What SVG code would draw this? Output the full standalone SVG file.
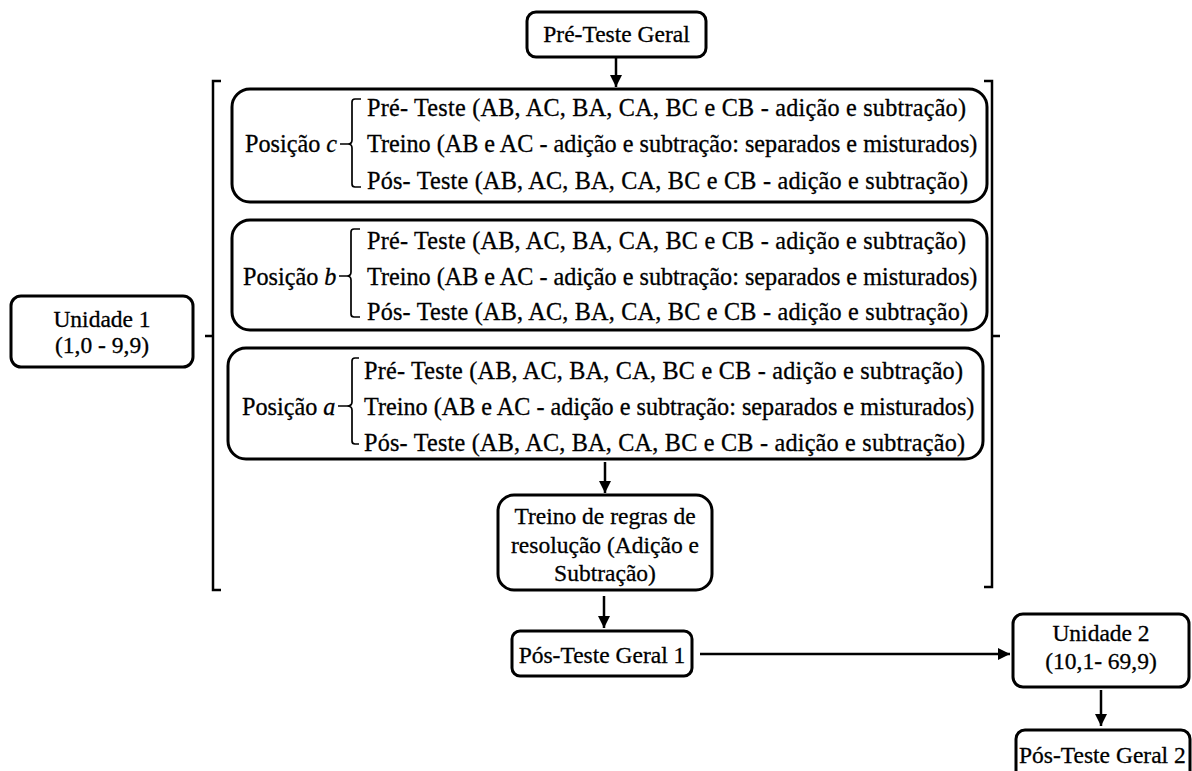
<svg xmlns="http://www.w3.org/2000/svg" width="1192" height="771" viewBox="0 0 1192 771">
<style>
.box{fill:#fff;stroke:#000;stroke-width:3}
.t{font-family:'Liberation Serif','Times New Roman',serif;font-size:23.5px;fill:#000;stroke:#000;stroke-width:0.3}
.s{font-size:24.2px}
.m{text-anchor:middle}
.brk{fill:none;stroke:#000;stroke-width:2.5}
.brace{fill:none;stroke:#000;stroke-width:1.7}
.conn{fill:none;stroke:#000;stroke-width:2.5}
</style>
<defs>
<marker id="ah" markerUnits="userSpaceOnUse" markerWidth="14" markerHeight="14" refX="12" refY="6" orient="auto">
<path d="M0,0 L12,6 L0,12 Z" fill="#000"/>
</marker>
</defs>
<rect width="1192" height="771" fill="#fff"/>

<g id="brackets">
<path class="brk" d="M221,81 H213 V590 H221 M213,336 H205"/>
<path class="brk" d="M984,81 H992 V587 H984 M992,336 H1000"/>
</g>

<g id="pre-teste-geral">
<rect class="box" x="527" y="12" width="179" height="45" rx="9"/>
<text class="t m" x="616.5" y="42">Pré-Teste Geral</text>
</g>

<g id="posicao-c">
<rect class="box" x="232" y="89" width="755" height="113" rx="18"/>
<text class="t s" x="245" y="152">Posição <tspan font-style="italic">c</tspan></text>
<path class="brace" d="M340,144 H348 M361,99 H355 Q352,99 352,102 V140 Q352,144 348,144 Q352,144 352,148 V184 Q352,187 355,187 H361"/>
<text class="t s" x="367" y="116" textLength="599" lengthAdjust="spacing">Pré- Teste (AB, AC, BA, CA, BC e CB - adição e subtração)</text>
<text class="t s" x="367" y="152">Treino (AB e AC - adição e subtração: separados e misturados)</text>
<text class="t s" x="367" y="189" textLength="601" lengthAdjust="spacing">Pós- Teste (AB, AC, BA, CA, BC e CB - adição e subtração)</text>
</g>

<g id="posicao-b">
<rect class="box" x="232" y="220" width="755" height="110" rx="18"/>
<text class="t s" x="243" y="285">Posição <tspan font-style="italic">b</tspan></text>
<path class="brace" d="M339,276 H347 M360,229 H354 Q351,229 351,232 V272 Q351,276 347,276 Q351,276 351,280 V314 Q351,317 354,317 H360"/>
<text class="t s" x="367" y="249" textLength="599" lengthAdjust="spacing">Pré- Teste (AB, AC, BA, CA, BC e CB - adição e subtração)</text>
<text class="t s" x="367" y="285">Treino (AB e AC - adição e subtração: separados e misturados)</text>
<text class="t s" x="367" y="320" textLength="601" lengthAdjust="spacing">Pós- Teste (AB, AC, BA, CA, BC e CB - adição e subtração)</text>
</g>

<g id="posicao-a">
<rect class="box" x="228" y="348" width="755" height="111" rx="18"/>
<text class="t s" x="242" y="415">Posição <tspan font-style="italic">a</tspan></text>
<path class="brace" d="M338,406 H347 M359,358 H355 Q352,358 352,361 V402 Q352,406 347,406 Q352,406 352,410 V441 Q352,444 355,444 H359"/>
<text class="t s" x="364" y="379" textLength="599" lengthAdjust="spacing">Pré- Teste (AB, AC, BA, CA, BC e CB - adição e subtração)</text>
<text class="t s" x="364" y="415">Treino (AB e AC - adição e subtração: separados e misturados)</text>
<text class="t s" x="364" y="451" textLength="601" lengthAdjust="spacing">Pós- Teste (AB, AC, BA, CA, BC e CB - adição e subtração)</text>
</g>

<g id="unidade-1">
<rect class="box" x="11" y="296" width="182" height="71" rx="10"/>
<text class="t m" x="102" y="327">Unidade 1</text>
<text class="t m" x="102" y="353">(1,0 - 9,9)</text>
</g>

<g id="treino-regras">
<rect class="box" x="498" y="495" width="214" height="95" rx="16"/>
<text class="t m" x="605" y="524">Treino de regras de</text>
<text class="t m" x="605" y="553">resolução (Adição e</text>
<text class="t m" x="605" y="581">Subtração)</text>
</g>

<g id="pos-teste-geral-1">
<rect class="box" x="512" y="631" width="180" height="45" rx="8"/>
<text class="t m" x="602" y="663">Pós-Teste Geral 1</text>
</g>

<g id="unidade-2">
<rect class="box" x="1013" y="614" width="176" height="73" rx="10"/>
<text class="t m" x="1101" y="641">Unidade 2</text>
<text class="t m" x="1101" y="669">(10,1- 69,9)</text>
</g>

<g id="pos-teste-geral-2">
<rect class="box" x="1016" y="730" width="174" height="60" rx="9"/>
<text class="t" x="1019" y="763">Pós-Teste Geral 2</text>
</g>

<g id="connectors">
<line class="conn" x1="616" y1="58" x2="616" y2="87" marker-end="url(#ah)"/>
<line class="conn" x1="605" y1="462" x2="605" y2="493" marker-end="url(#ah)"/>
<line class="conn" x1="604" y1="596" x2="604" y2="628" marker-end="url(#ah)"/>
<line class="conn" x1="700" y1="654" x2="1010" y2="654" marker-end="url(#ah)"/>
<line class="conn" x1="1101" y1="690" x2="1101" y2="726" marker-end="url(#ah)"/>
</g>
</svg>
